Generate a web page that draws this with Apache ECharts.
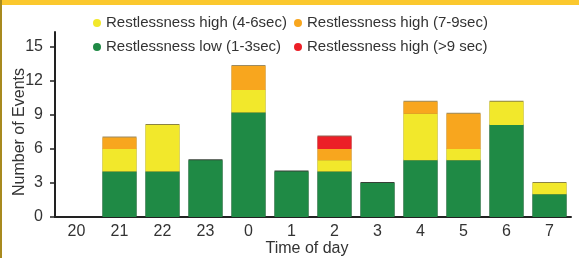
<!DOCTYPE html>
<html><head><meta charset="utf-8">
<script src="https://cdn.jsdelivr.net/npm/echarts@6/dist/echarts.min.js"></script>
<style>
html,body{margin:0;padding:0;background:#fff;}
#c{width:579px;height:258px;position:absolute;left:0;top:0;}
#topband{position:absolute;left:0;top:0;width:579px;height:5px;background:#fbc82e;z-index:2;}
#leftband{position:absolute;left:0;top:0;width:2px;height:258px;background:#a88a1e;z-index:3;}
</style></head>
<body>
<div id="c"></div><div id="topband"></div><div id="leftband"></div>
<script>
const categories = ['20','21','22','23','0','1','2','3','4','5','6','7'];
const lowVals    = ['-', 4, 4, 5, 9.2, 4, 4, 3, 5, 5, 8.1, 2];
const high46     = ['-', 2, 4.1, '-', 2, '-', 1, '-', 4.1, 1, 2.05, 1];
const high79     = ['-', 1, '-', '-', 2.1, '-', 1, '-', 1.05, 3.1, '-', '-'];
const high9      = ['-', '-', '-', '-', '-', '-', 1.1, '-', '-', '-', '-', '-'];
const yTicks = [0, 3, 6, 9, 12, 15];

const names = {
  low: 'Restlessness low (1-3sec)',
  h46: 'Restlessness high (4-6sec)',
  h79: 'Restlessness high (7-9sec)',
  h9: 'Restlessness high (>9 sec)'
};
function bar(name, data, color, lineColor){
  return {
    name, type:'bar', stack:'s', data, barWidth:34,
    itemStyle:{color, shadowColor:lineColor, shadowOffsetY:-1, shadowBlur:0},
    emphasis:{disabled:true}
  };
}
const font = '"Liberation Sans", Arial, sans-serif';
const chart = echarts.init(document.getElementById('c'), null, {renderer:'canvas'});
const legendText = {fontSize:15, color:'#333', fontFamily:font, lineHeight:16};
chart.setOption({
  animation:false,
  textStyle:{fontFamily:font},
  grid:{left:55, right:8, top:32, bottom:41, containLabel:false, outerBoundsMode:'none'},
  legend:[
    {orient:'vertical', left:88, top:10, itemGap:8, itemWidth:8, itemHeight:8, icon:'circle',
     data:[names.h46, names.low], textStyle:legendText},
    {orient:'vertical', left:289, top:10, itemGap:8, itemWidth:8, itemHeight:8, icon:'circle',
     data:[names.h79, names.h9], textStyle:legendText}
  ],
  xAxis:{
    type:'category', data:categories,
    name:'Time of day', nameLocation:'middle', nameGap:24, nameMoveOverlap:false,
    nameTextStyle:{fontSize:16, color:'#333', fontFamily:font, padding:[0,12,0,0]},
    axisLine:{lineStyle:{color:'#222', width:2}},
    axisTick:{alignWithLabel:true, length:5, lineStyle:{color:'#222', width:1.5}},
    axisLabel:{fontSize:16, color:'#333', margin:7, fontFamily:font, interval:0}
  },
  yAxis:{
    type:'value', min:0, max:16.3, interval:3,
    name:'Number of Events', nameLocation:'middle', nameGap:27, nameMoveOverlap:false,
    nameTextStyle:{fontSize:16, color:'#333', fontFamily:font, padding:[0,15,0,0]},
    axisLine:{show:true, lineStyle:{color:'#222', width:2}},
    axisTick:{show:true, length:5, customValues:yTicks, lineStyle:{color:'#222', width:1.5}},
    axisLabel:{fontSize:16, color:'#333', margin:12, fontFamily:font, customValues:yTicks},
    splitLine:{show:false}
  },
  series:[
    bar(names.low, lowVals, '#1f8a45', 'rgba(20,30,20,0.85)'),
    bar(names.h46, high46, '#f2e82b', 'rgba(110,100,20,0.8)'),
    bar(names.h79, high79, '#f8a61e', 'rgba(130,110,60,0.8)'),
    bar(names.h9, high9, '#ec1f27', 'rgba(120,60,40,0.8)')
  ]
});
</script>
</body></html>
